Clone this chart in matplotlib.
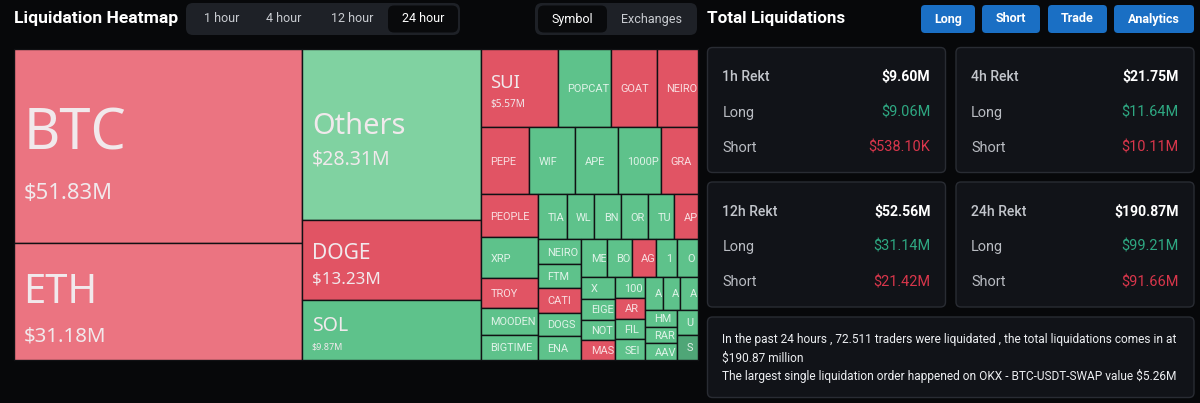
import numpy as np
import matplotlib
matplotlib.use("Agg")
import matplotlib.pyplot as plt
from matplotlib.patches import Rectangle, FancyBboxPatch
from matplotlib.transforms import Bbox, TransformedBbox

# ---- data ----
symbols = ['BTC', 'ETH', 'Others', 'DOGE', 'SOL',
           'SUI', 'POPCAT', 'GOAT', 'NEIRO',
           'PEPE', 'WIF', 'APE', '1000PEPE', 'GRASS',
           'PEOPLE', 'XRP', 'TROY', 'MOODENG', 'BIGTIME',
           'TIA', 'WLD', 'BNB', 'ORDI', 'TURBO', 'APT',
           'NEIROETH', 'FTM', 'CATI', 'DOGS', 'ENA',
           'ME', 'BOME', 'AGLD', '1MBABYDOGE', 'OP',
           'X', 'EIGEN', 'NOT', 'MASK',
           '1000SATS', 'ARK', 'FIL', 'SEI',
           'AI16Z', 'AIXBT', 'AVAX',
           'HMSTR', 'RARE', 'AAVE',
           'UNI', 'SCR']
values = [51.83, 31.18, 28.31, 13.23, 9.87,
          5.57, 3.89, 3.32, 2.98,
          2.95, 2.85, 2.66, 2.64, 2.29,
          2.28, 2.17, 1.54, 1.43, 1.33,
          1.20, 1.17, 1.13, 1.12, 1.10, 1.00,
          0.99, 0.98, 0.97, 0.96, 0.95,
          0.88, 0.87, 0.86, 0.74, 0.72,
          0.68, 0.64, 0.62, 0.62,
          0.58, 0.58, 0.57, 0.57,
          0.54, 0.53, 0.53,
          0.50, 0.50, 0.50,
          0.49, 0.48]
# 'S' = red cell, 'L' = green cell
sides = ['S', 'S', 'L', 'S', 'L',
         'S', 'L', 'S', 'S',
         'S', 'L', 'L', 'L', 'S',
         'S', 'L', 'S', 'L', 'L',
         'L', 'L', 'L', 'L', 'L', 'S',
         'L', 'L', 'S', 'L', 'L',
         'L', 'L', 'S', 'L', 'L',
         'L', 'L', 'L', 'S',
         'L', 'S', 'L', 'L',
         'L', 'L', 'L',
         'L', 'L', 'L',
         'L', 'L']

time_tabs = ['1 hour', '4 hour', '12 hour', '24 hour']
view_tabs = ['Symbol', 'Exchanges']
nav_buttons = ['Long', 'Short', 'Trade', 'Analytics']

periods = ['1h Rekt', '4h Rekt', '12h Rekt', '24h Rekt']
rekt_total = [9.60, 21.75, 52.56, 190.87]
rekt_long = [9.06, 11.64, 31.14, 99.21]
rekt_short = [0.5381, 10.11, 21.42, 91.66]

traders = '72.511'
total_24h = 190.87
big_exchange = 'OKX'
big_pair = 'BTC-USDT-SWAP'
big_value = 5.26

# ---- fonts / colours ----
UI = ['Roboto', 'DejaVu Sans']
MAP = ['Noto Sans', 'DejaVu Sans']
BG = '#07080a'
RED, RED_L = '#e15464', '#eb7481'
GRN, GRN_L = '#5ec28b', '#80d2a1'
TXT_G = '#2ea882'
TXT_R = '#d8364b'


def pt(px):
    return px * 0.72


def money(v):
    if v < 1:
        return '${:.2f}K'.format(v * 1000)
    return '${:.2f}M'.format(v)


# echarts style squarify (squareRatio = golden ratio)
def worst(areas, fixed, ratio):
    s = sum(areas)
    f = fixed * fixed * ratio
    return max(f * max(areas) / (s * s), s * s / (f * min(areas)))


def place(row, areas, fixed, rect, flush):
    horiz = fixed == rect[2]
    s = sum(areas[j] for j in row)
    other = s / fixed
    span = rect[3] if horiz else rect[2]
    if flush or other > span:
        other = span
    pos = rect[0] if horiz else rect[1]
    end = pos + (rect[2] if horiz else rect[3])
    res = []
    for k, j in enumerate(row):
        step = areas[j] / other
        remain = end - pos
        size = remain if (k == len(row) - 1 or remain < step) else step
        if horiz:
            res.append((j, pos, rect[1], size, other))
        else:
            res.append((j, rect[0], pos, other, size))
        pos += size
    if horiz:
        rect[1] += other
        rect[3] -= other
    else:
        rect[0] += other
        rect[2] -= other
    return res


def squarify(vals, x, y, w, h, ratio=0.5 * (1 + 5 ** 0.5)):
    order = sorted(range(len(vals)), key=lambda i: -vals[i])
    tot = sum(vals)
    areas = {i: vals[i] / tot * w * h for i in order}
    rect = [x, y, w, h]
    fixed = min(w, h)
    best = np.inf
    row = []
    out = []
    k = 0
    while k < len(order):
        row.append(order[k])
        score = worst([areas[j] for j in row], fixed, ratio)
        if score <= best:
            k += 1
            best = score
        else:
            row.pop()
            out += place(row, areas, fixed, rect, False)
            fixed = min(rect[2], rect[3])
            row = []
            best = np.inf
    if row:
        out += place(row, areas, fixed, rect, True)
    return out


fig = plt.figure(figsize=(12, 4.03), dpi=100)
fig.patch.set_facecolor(BG)
ax = fig.add_axes([0, 0, 1, 1])
ax.set_xlim(0, 1200)
ax.set_ylim(403, 0)
ax.axis('off')
renderer = fig.canvas.get_renderer()


def rbox(x0, y0, x1, y1, fc, ec='none', r=5, lw=1.0):
    p = FancyBboxPatch((x0, y0), x1 - x0, y1 - y0,
                       boxstyle='round,pad=0,rounding_size=%g' % r,
                       fc=fc, ec=ec, lw=lw)
    ax.add_patch(p)


def fit(t, right):
    # cut the label so it stays inside its cell (the web chart truncates too)
    limit = ax.transData.transform((right, 0))[0]
    s = t.get_text()
    while len(s) > 1 and t.get_window_extent(renderer).x1 > limit:
        s = s[:-1]
        t.set_text(s)


# ---- header left ----
ax.text(14, 19, 'Liquidation Heatmap', family=UI, fontsize=pt(17.5), fontweight='bold',
        color='white', va='center', ha='left')
rbox(186, 3, 460, 35, '#1e2127', r=7)
rbox(388, 5.5, 458, 32.5, '#090a0c', r=6)
for lab, cx in zip(time_tabs, [222, 284, 352, 423]):
    ax.text(cx, 19, lab, family=UI, fontsize=pt(12.5), ha='center', va='center',
            color='white' if lab == '24 hour' else '#c9ccd1')
rbox(535, 3, 697, 35, '#1e2127', r=7)
rbox(538, 5.5, 607, 32.5, '#090a0c', r=6)
for lab, cx in zip(view_tabs, [572, 652]):
    ax.text(cx, 19, lab, family=UI, fontsize=pt(12.5), ha='center', va='center',
            color='white' if lab == 'Symbol' else '#c9ccd1')

# ---- heatmap ----
name_v = [0.4, 4.0, 5.5, 9.87, 13.23, 28.31, 31.18, 51.83]
name_px = [11.0, 11.5, 18.5, 19.5, 21.0, 29.0, 40.0, 56.0]
val_v = [5.5, 9.87, 13.23, 28.31, 31.18, 51.83]
val_px = [10.0, 9.0, 17.0, 19.5, 20.5, 22.0]

cells = squarify(values, 14, 49, 684, 311)
for j, x, y, w, h in cells:
    v = values[j]
    if sides[j] == 'S':
        fc = RED_L if v >= 20 else RED
    else:
        fc = GRN_L if v >= 20 else GRN
    if symbols[j] == 'SCR':
        fc = '#4fa677'
    r = Rectangle((x, y), w, h, fc=fc, ec='#101114', lw=1.0)
    ax.add_patch(r)
    clip = TransformedBbox(Bbox.from_extents(x + 0.5, y + 0.5, x + w - 0.5, y + h - 0.5),
                           ax.transData)
    npx = np.interp(v, name_v, name_px)
    cy = y + h / 2
    tx = x + 9.5
    if v >= 5:
        vpx = np.interp(v, val_v, val_px)
        c1 = 0.714 * npx
        c2 = 0.714 * vpx
        gap = 0.6 * npx
        top = cy + 0.15 * npx - (c1 + gap + c2) / 2
        yn = top + c1
        yv = yn + gap + c2
        t1 = ax.text(tx, yn, symbols[j], family=MAP, fontsize=pt(npx), color='#f1e9ec',
                     va='baseline', ha='left', clip_on=True)
        t2 = ax.text(tx, yv, money(v), family=MAP, fontsize=pt(vpx), color='#f1e9ec',
                     va='baseline', ha='left', clip_on=True)
        t1.set_clip_box(clip)
        t2.set_clip_box(clip)
    else:
        t1 = ax.text(tx, cy + 0.71 * 11 / 2, symbols[j], family=UI, fontsize=pt(11),
                     color='white', alpha=0.8, va='baseline', ha='left', clip_on=True)
        t1.set_clip_box(clip)
        fit(t1, x + w)

# ---- right header ----
ax.text(707, 19, 'Total Liquidations', family=UI, fontsize=pt(17), fontweight='bold',
        color='white', va='center', ha='left')
for lab, (x0, x1) in zip(nav_buttons, [(921, 975), (982, 1040), (1048, 1107), (1114, 1194)]):
    rbox(x0, 5, x1, 33, '#1a6fc4', r=4)
    ax.text((x0 + x1) / 2, 19, lab, family=UI, fontsize=pt(12.5), fontweight='bold',
            color='white', ha='center', va='center')

# ---- rekt boxes ----
for i in range(4):
    x0 = 707.5 if i % 2 == 0 else 956
    x1 = x0 + 238
    y0 = 47.5 if i < 2 else 182
    y1 = y0 + 125
    rbox(x0, y0, x1, y1, '#111318', ec='#292c33', r=5)
    ax.text(x0 + 15, y0 + 29.5, periods[i], family=UI, fontsize=pt(14), fontweight='medium',
            color='#c3c6cc', va='center', ha='left')
    ax.text(x1 - 15, y0 + 29.5, money(rekt_total[i]), family=UI, fontsize=pt(14),
            fontweight='bold', color='white', va='center', ha='right')
    ax.text(x0 + 15, y0 + 65, 'Long', family=UI, fontsize=pt(14.5),
            color='#b9bcc2', va='center', ha='left')
    ax.text(x1 - 15, y0 + 65, money(rekt_long[i]), family=UI, fontsize=pt(14.5),
            color=TXT_G, va='center', ha='right')
    ax.text(x0 + 15, y0 + 100, 'Short', family=UI, fontsize=pt(14.5),
            color='#b9bcc2', va='center', ha='left')
    ax.text(x1 - 15, y0 + 100, money(rekt_short[i]), family=UI, fontsize=pt(14.5),
            color=TXT_R, va='center', ha='right')

# ---- summary box ----
rbox(707.5, 317, 1194, 397.5, '#111318', ec='#292c33', r=5)
lines = ['In the past 24 hours , {} traders were liquidated , the total liquidations comes in at'.format(traders),
         '${:.2f} million'.format(total_24h),
         'The largest single liquidation order happened on {} - {} value ${:.2f}M'.format(big_exchange, big_pair, big_value)]
for k, ln in enumerate(lines):
    ax.text(722, 340 + k * 18, ln, family=UI, fontsize=pt(11.9), color='#eceef1',
            va='center', ha='left')

fig.savefig('out.png', dpi=100, facecolor=BG)
